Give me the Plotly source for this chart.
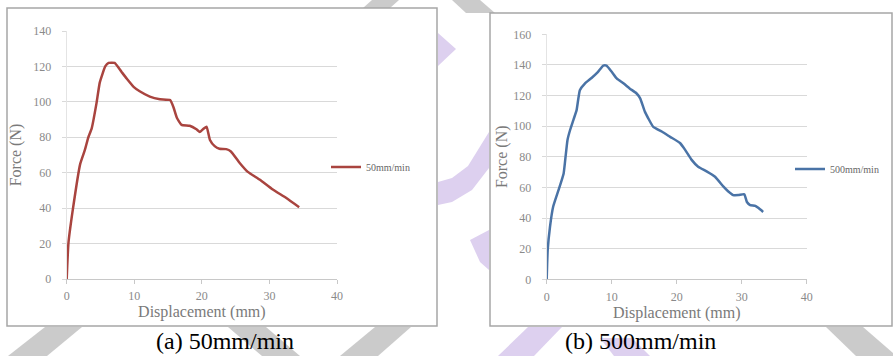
import plotly.graph_objects as go

W, H = 893, 356

# ---- data ----
disp_50 = [0, 0.25, 0.9, 2.0, 2.7, 3.2, 3.7, 4.4, 4.9, 5.7, 6.2, 7.1, 8.1, 8.9, 9.9,
           10.8, 12.3, 13.8, 15.3, 15.8, 16.3, 17.0, 18.2, 19.2, 19.7, 20.3, 20.7,
           21.2, 21.9, 22.6, 23.6, 24.3, 25.6, 26.8, 28.6, 30.5, 32.5, 34.4]
force_50 = [0, 20, 39, 65, 73, 80, 85, 99, 111, 120, 122, 122, 117, 113, 108.5,
            106, 103, 101.5, 101, 97, 91, 87, 86.5, 84.5, 83, 85, 86,
            78.5, 75, 73.5, 73.3, 72, 65.5, 60.5, 56, 50.5, 45.7, 40.5]

disp_500 = [0, 0.15, 0.5, 1.0, 1.8, 2.6, 2.8, 3.2, 3.6, 4.1, 4.6, 5.1, 5.9, 6.9, 7.9,
            8.7, 9.2, 10.0, 10.8, 11.8, 12.8, 13.8, 14.4, 15.1, 16.4, 17.7, 19.0,
            20.5, 21.3, 22.3, 23.3, 24.6, 25.9, 27.2, 27.9, 28.7, 29.5, 30.4, 30.8,
            31.3, 32.1, 32.6, 33.3]
force_500 = [0, 19, 34, 47.5, 58, 69, 76, 91, 97.5, 104, 110.5, 123.5, 128, 131.5, 135.5,
             139.5, 139.5, 135.5, 131, 128, 124.5, 121.5, 118, 109.5, 99.5, 96.5, 93,
             89, 84.5, 78, 73.5, 70.5, 67, 60.5, 57.5, 55, 55, 55.5, 50.5,
             48.5, 48, 46.5, 44]

x_ticks = [0, 10, 20, 30, 40]
y_ticks_a = [0, 20, 40, 60, 80, 100, 120, 140]
y_ticks_b = [0, 20, 40, 60, 80, 100, 120, 140, 160]
name_a, name_b = "50mm/min", "500mm/min"
caption_a, caption_b = "(a) 50mm/min", "(b) 500mm/min"
x_title, y_title = "Displacement (mm)", "Force (N)"


def px(x):
    return x / W


def py(y):
    return 1 - y / H


def poly(pts, color):
    d = "M " + " L ".join(f"{px(x):.5f},{py(y):.5f}" for x, y in pts) + " Z"
    return dict(type="path", xref="paper", yref="paper", path=d,
                fillcolor=color, line=dict(width=0), layer="below")


GRAY = "#cbcbcb"
PURP = "#ddd0ef"
SERIF = "Liberation Serif"

shapes = [
    # watermark pieces, only where the panels leave the page visible
    poly([(45, 327), (82, 327), (47, 356), (8, 356)], GRAY),
    poly([(228, 327), (266, 327), (300, 356), (262, 356)], GRAY),
    poly([(375, 327), (411, 327), (378, 356), (340, 356)], GRAY),
    poly([(372, 0), (399, 0), (390, 8), (363, 8)], GRAY),
    poly([(452, 0), (480, 0), (495, 13), (466, 13)], GRAY),
    poly([(826, 327), (863, 327), (893, 353), (893, 356), (856, 356)], GRAY),
    poly([(438, 33), (456, 49), (438, 66)], PURP),
    poly([(438, 182), (452, 178), (468, 166), (489, 132), (489, 168),
          (472, 190), (452, 202), (438, 205)], PURP),
    poly([(470, 240), (489, 230), (489, 270), (480, 262)], PURP),
    poly([(528, 327), (562, 327), (534, 356), (498, 356)], PURP),
    poly([(600, 338), (632, 338), (650, 356), (614, 356)], PURP),
    # panels
    dict(type="rect", xref="paper", yref="paper", x0=px(7), x1=px(437), y0=py(326), y1=py(8),
         fillcolor="white", line=dict(color="#a6a6a6", width=1.5), layer="below"),
    dict(type="rect", xref="paper", yref="paper", x0=px(490), x1=px(892), y0=py(326), y1=py(13),
         fillcolor="white", line=dict(color="#a6a6a6", width=1.5), layer="below"),
]

fig = go.Figure()
fig.add_trace(go.Scatter(x=disp_50, y=force_50, mode="lines", name=name_a,
                         line=dict(color="#a9443f", width=2.5, shape="spline", smoothing=0.4),
                         xaxis="x", yaxis="y", legend="legend"))
fig.add_trace(go.Scatter(x=disp_500, y=force_500, mode="lines", name=name_b,
                         line=dict(color="#4a73a6", width=2.5, shape="spline", smoothing=0.4),
                         xaxis="x2", yaxis="y2", legend="legend2"))

tickfont = dict(family=SERIF, size=12, color="#8a8a8a")
titlefont = dict(family=SERIF, size=16, color="#7a7a7a")

xcommon = dict(range=[0, 40], tickvals=x_ticks, showgrid=False, zeroline=False,
               showline=True, linecolor="#c8c8c8", linewidth=1,
               ticks="outside", ticklen=4, tickcolor="#c8c8c8",
               tickfont=tickfont, ticklabelstandoff=2,
               title=dict(text=x_title, font=titlefont, standoff=3))
ycommon = dict(showgrid=True, gridcolor="#d9d9d9", gridwidth=1, zeroline=False,
               showline=True, linecolor="#e4e4e4", linewidth=1,
               ticks="outside", ticklen=4, tickcolor="#d9d9d9",
               tickfont=tickfont, ticklabelstandoff=8)

fig.update_layout(
    width=W, height=H, margin=dict(l=0, r=0, t=0, b=0, autoexpand=False),
    paper_bgcolor="white", plot_bgcolor="rgba(0,0,0,0)",
    xaxis=dict(domain=[px(66.7), px(337)], anchor="y", **xcommon),
    yaxis=dict(domain=[py(279), py(31)], anchor="x", range=[0, 140], tickvals=y_ticks_a,
               title=dict(text=y_title, font=titlefont, standoff=7), **ycommon),
    xaxis2=dict(domain=[px(546.7), px(806.7)], anchor="y2", **xcommon),
    yaxis2=dict(domain=[py(279.3), py(34.3)], anchor="x2", range=[0, 160], tickvals=y_ticks_b,
                title=dict(text=y_title, font=titlefont, standoff=1), **ycommon),
    legend=dict(x=px(326), y=py(167), xanchor="left", yanchor="middle",
                bgcolor="rgba(0,0,0,0)", itemwidth=30,
                font=dict(family=SERIF, size=10, color="#666666")),
    legend2=dict(x=px(790), y=py(169), xanchor="left", yanchor="middle",
                 bgcolor="rgba(0,0,0,0)", itemwidth=30,
                 font=dict(family=SERIF, size=10, color="#666666")),
    shapes=shapes,
    annotations=[
        dict(text=caption_a, x=px(225), y=py(341), xref="paper", yref="paper",
             showarrow=False, xanchor="center", yanchor="middle",
             font=dict(family=SERIF, size=24, color="black")),
        dict(text=caption_b, x=px(640), y=py(341), xref="paper", yref="paper",
             showarrow=False, xanchor="center", yanchor="middle",
             font=dict(family=SERIF, size=24, color="black")),
    ],
    showlegend=True,
)

fig.write_html(
    "out.html",
    config={"displayModeBar": False},
    post_script="document.body.style.margin='0';document.body.style.overflow='hidden';",
)
